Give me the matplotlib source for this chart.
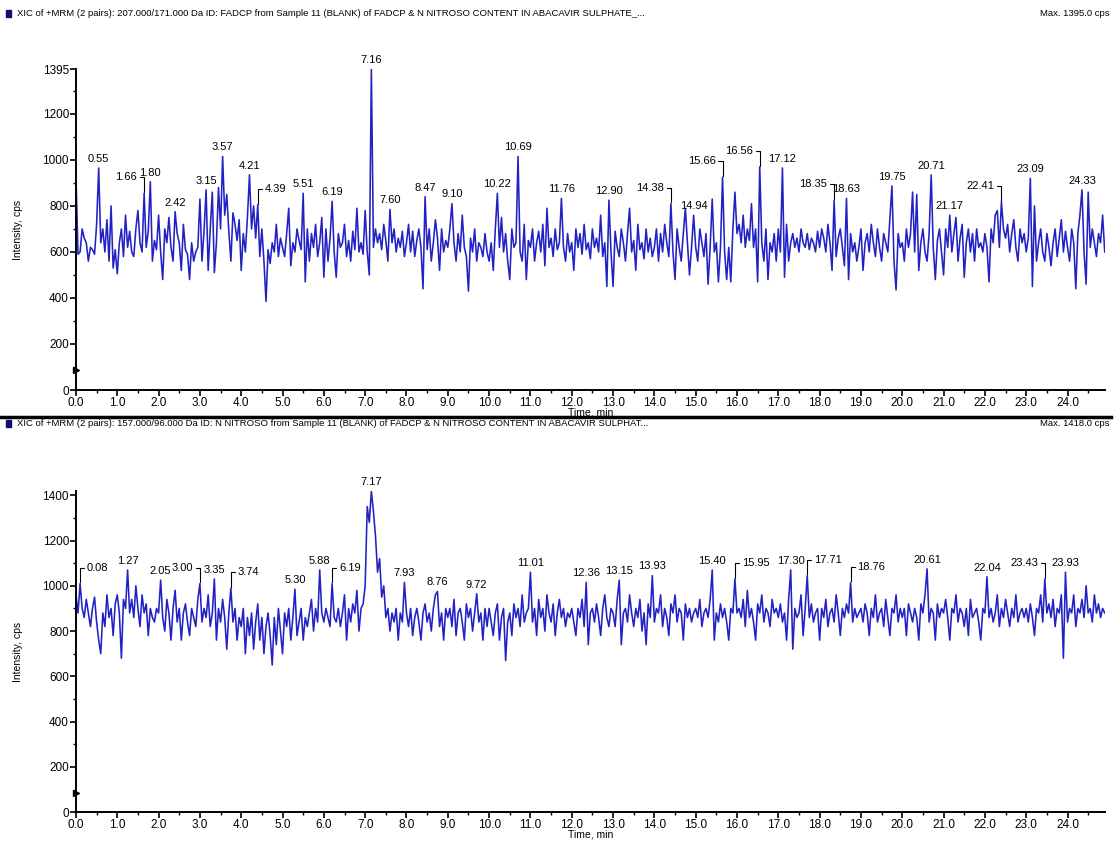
import numpy as np
import matplotlib
matplotlib.use("Agg")
import matplotlib.pyplot as plt
from matplotlib.ticker import MultipleLocator

plt.rcParams['font.family'] = ['Liberation Sans Narrow', 'Liberation Sans', 'DejaVu Sans']

# scan step of the XIC (min)
step = 0.05

# FADCP trace 207.000/171.000, one row per minute
fadcp = [
    930, 590, 600, 700, 660, 640, 560, 620, 610, 590, 720, 965, 640, 700, 600, 740, 560, 800, 530, 610,
    505, 640, 700, 580, 760, 620, 690, 600, 580, 700, 780, 640, 600, 855, 620, 690, 905, 560, 650, 610,
    760, 600, 480, 700, 640, 750, 620, 560, 775, 680, 640, 520, 720, 610, 590, 480, 640, 560, 600, 620,
    830, 560, 690, 870, 520, 700, 860, 510, 640, 880, 700, 1015, 760, 850, 690, 560, 770, 720, 650, 740,
    520, 680, 600, 750, 935, 700, 800, 660, 805, 580, 700, 560, 385, 610, 550, 640, 600, 720, 580, 660,
    620, 580, 680, 790, 540, 640, 600, 700, 650, 610, 855, 470, 700, 560, 680, 620, 720, 580, 640, 750,
    490, 700, 560, 660, 820, 600, 490, 680, 620, 640, 720, 580, 650, 560, 690, 610, 790, 600, 640, 590,
    780, 600, 500, 1395, 620, 700, 640, 680, 610, 720, 650, 560, 785, 640, 700, 600, 660, 620, 690, 580,
    640, 720, 600, 690, 580, 650, 700, 620, 440, 840, 610, 700, 560, 640, 740, 660, 520, 700, 600, 650,
    620, 700, 810, 640, 560, 680, 600, 760, 620, 580, 430, 660, 600, 700, 560, 640, 620, 580, 680, 600,
    560, 640, 520, 700, 855, 620, 750, 600, 680, 560, 480, 700, 620, 640, 1015, 600, 560, 720, 480, 650,
    620, 700, 560, 640, 690, 600, 720, 540, 790, 620, 660, 580, 700, 610, 640, 833, 620, 560, 680, 600,
    640, 520, 700, 620, 680, 590, 720, 610, 640, 570, 700, 620, 660, 600, 760, 580, 640, 450, 825, 600,
    450, 690, 620, 580, 700, 640, 560, 680, 790, 600, 650, 520, 720, 610, 640, 570, 700, 600, 660, 580,
    620, 700, 560, 680, 600, 720, 640, 580, 810, 600, 480, 700, 620, 560, 680, 790, 640, 500, 620, 760,
    620, 560, 700, 640, 580, 680, 460, 620, 830, 600, 640, 470, 620, 925, 600, 480, 620, 470, 700, 860,
    680, 720, 640, 760, 620, 700, 650, 810, 620, 700, 470, 970, 640, 560, 700, 480, 640, 600, 680, 560,
    700, 600, 965, 490, 720, 560, 640, 680, 620, 660, 600, 700, 640, 620, 680, 610, 660, 640, 600, 690,
    620, 700, 660, 600, 720, 640, 520, 825, 580, 660, 700, 620, 540, 833, 480, 680, 600, 640, 560, 620,
    700, 520, 640, 680, 600, 720, 640, 580, 700, 620, 560, 680, 640, 600, 740, 887, 560, 435, 680, 620,
    640, 560, 700, 620, 680, 860, 600, 850, 520, 640, 700, 600, 560, 680, 935, 620, 480, 650, 700, 600,
    500, 700, 620, 760, 600, 680, 750, 560, 660, 720, 490, 640, 700, 600, 680, 560, 700, 620, 640, 600,
    680, 620, 470, 700, 640, 760, 780, 620, 818, 700, 660, 720, 600, 680, 740, 620, 560, 700, 640, 680,
    600, 660, 920, 450, 800, 560, 640, 700, 600, 560, 680, 620, 540, 640, 700, 580, 660, 740, 600, 690,
    620, 560, 700, 640, 440, 680, 760, 870, 600, 460, 860, 620, 700, 640, 580, 680, 640, 760, 600,
]

# N NITROSO trace 157.000/96.000
nitroso = [
    960, 880, 1010, 900, 860, 940, 880, 820, 900, 950, 840, 760, 700, 880, 820, 960, 860, 900, 780, 920,
    960, 880, 680, 940, 900, 1070, 880, 940, 860, 1000, 900, 820, 960, 880, 920, 780, 900, 860, 840, 900,
    880, 1025, 860, 800, 940, 880, 760, 900, 980, 840, 900, 760, 880, 920, 840, 780, 900, 860, 820, 940,
    1010, 840, 900, 860, 960, 820, 880, 1030, 760, 900, 840, 940, 860, 720, 880, 990, 840, 900, 760, 860,
    820, 900, 700, 860, 780, 880, 720, 840, 920, 760, 860, 700, 820, 880, 780, 650, 860, 740, 900, 800,
    700, 880, 820, 900, 760, 860, 985, 780, 840, 900, 760, 860, 820, 880, 940, 800, 900, 840, 1070, 880,
    840, 900, 860, 820, 1010, 860, 840, 900, 820, 880, 960, 760, 900, 840, 920, 880, 980, 800, 900, 920,
    1000, 1350, 1280, 1418, 1330, 1220, 1060, 1120, 950, 1000, 860, 900, 800, 880, 840, 900, 760, 880, 840, 1015,
    880, 820, 900, 780, 860, 900, 840, 760, 880, 920, 840, 880, 800, 900, 960, 975, 820, 880, 760, 900,
    860, 900, 820, 940, 780, 880, 900, 840, 760, 920, 860, 900, 800, 880, 965, 840, 880, 760, 900, 820,
    900, 840, 780, 880, 920, 760, 860, 900, 670, 840, 880, 780, 920, 860, 900, 820, 960, 840, 880, 900,
    1060, 840, 900, 780, 940, 860, 900, 800, 960, 880, 840, 920, 780, 880, 940, 860, 900, 820, 880, 860,
    900, 840, 780, 900, 860, 940, 820, 1015, 740, 880, 900, 840, 920, 860, 780, 900, 960, 860, 820, 900,
    880, 820, 940, 1025, 740, 880, 900, 840, 960, 880, 820, 900, 860, 940, 800, 880, 740, 920, 860, 1045,
    840, 900, 880, 960, 820, 900, 860, 780, 920, 880, 960, 840, 900, 880, 760, 920, 860, 900, 840, 880,
    900, 860, 940, 820, 880, 900, 860, 940, 1070, 760, 880, 840, 920, 860, 900, 840, 760, 900, 880, 1030,
    880, 900, 860, 940, 820, 980, 860, 900, 840, 760, 920, 880, 960, 840, 900, 880, 820, 940, 880, 900,
    860, 920, 840, 880, 760, 940, 1070, 720, 900, 860, 880, 960, 780, 900, 1045, 860, 920, 840, 880, 900,
    760, 900, 860, 940, 820, 880, 900, 840, 960, 880, 780, 900, 860, 920, 880, 1015, 840, 900, 860, 880,
    900, 840, 920, 880, 780, 900, 860, 960, 840, 880, 900, 820, 940, 860, 780, 900, 880, 960, 840, 900,
    860, 900, 780, 920, 880, 840, 900, 860, 760, 920, 880, 960, 1075, 840, 900, 880, 760, 920, 860, 900,
    880, 940, 860, 760, 900, 880, 960, 840, 900, 880, 820, 900, 780, 940, 860, 880, 900, 840, 760, 900,
    880, 1040, 860, 900, 840, 880, 960, 820, 900, 860, 940, 880, 820, 900, 860, 960, 840, 880, 900, 860,
    900, 840, 920, 860, 780, 900, 880, 960, 840, 1030, 880, 920, 860, 940, 820, 900, 880, 960, 680, 1060,
    840, 900, 880, 960, 820, 900, 880, 940, 860, 1000, 880, 900, 840, 960, 880, 920, 860, 900, 880,
]

# peak labels (retention times)
fadcp_peaks = [0.55, 1.66, 1.80, 2.42, 3.15, 3.57, 4.21, 4.39, 5.51, 6.19, 7.16, 7.60, 8.47, 9.10,
               10.22, 10.69, 11.76, 12.90, 14.38, 14.94, 15.66, 16.56, 17.12, 18.35, 18.63, 19.75,
               20.71, 21.17, 22.41, 23.09, 24.33]
nitroso_peaks = [0.08, 1.27, 2.05, 3.00, 3.35, 3.74, 5.30, 5.88, 6.19, 7.17, 7.93, 8.76, 9.72, 11.01,
                 12.36, 13.15, 13.93, 15.40, 15.95, 17.30, 17.71, 18.76, 20.61, 22.04, 23.43, 23.93]
# labels drawn with a bent leader line: -1 text left of the peak, +1 text right of it
fadcp_leader = {1.66: -1, 4.39: 1, 14.38: -1, 15.66: -1, 16.56: -1, 18.35: -1, 22.41: -1}
nitroso_leader = {0.08: 1, 3.00: -1, 3.74: 1, 6.19: 1, 15.95: 1, 17.71: 1, 18.76: 1, 23.43: -1}

headers = [
    "XIC of +MRM (2 pairs): 207.000/171.000 Da ID: FADCP from Sample 11 (BLANK) of FADCP & N NITROSO CONTENT IN ABACAVIR SULPHATE_...",
    "XIC of +MRM (2 pairs): 157.000/96.000 Da ID: N NITROSO from Sample 11 (BLANK) of FADCP & N NITROSO CONTENT IN ABACAVIR SULPHAT...",
]
max_cps = [1395.0, 1418.0]

fig = plt.figure(figsize=(11.17, 8.46), dpi=100)
ax1 = fig.add_axes([0.068, 0.539, 0.921, 0.3794])
ax2 = fig.add_axes([0.068, 0.040, 0.921, 0.3794])

blue = '#2222c4'


def draw(ax, vals, peaks, leaders, ymax, yticks, ylabels):
    y = np.array(vals, dtype=float)
    t = np.arange(len(y)) * step
    ax.plot(t, y, color=blue, lw=1.15)
    ax.set_xlim(0, 24.9)
    ax.set_ylim(0, ymax)
    for s in ['top', 'right']:
        ax.spines[s].set_visible(False)
    ax.spines['left'].set_linewidth(1.4)
    ax.spines['bottom'].set_linewidth(1.4)
    ax.set_xticks(np.arange(0, 25, 1.0))
    ax.set_xticklabels([f"{v:.1f}" for v in np.arange(0, 25, 1.0)], fontsize=8.5)
    ax.xaxis.set_minor_locator(MultipleLocator(0.5))
    ax.set_yticks(yticks)
    ax.set_yticklabels(ylabels, fontsize=8.5)
    ax.yaxis.set_minor_locator(MultipleLocator(100))
    ax.tick_params(which='major', length=4, width=1.2, pad=1)
    ax.tick_params(which='minor', length=2, width=1.0)
    ax.set_xlabel("Time, min", fontsize=7.5, labelpad=-1)
    ax.set_ylabel("Intensity, cps", fontsize=7.5, labelpad=14)
    # small start marker at the origin
    ax.plot([0], [85], marker='>', color='black', ms=4, clip_on=False)
    for p in peaks:
        i = int(round(p / step))
        h = y[i]
        if p in leaders:
            side = leaders[p]
            ax.annotate(f"{p:.2f}", xy=(t[i], h + 5), xytext=(5 * side, 7),
                        textcoords='offset points', fontsize=8,
                        ha='left' if side > 0 else 'right', va='bottom',
                        arrowprops=dict(arrowstyle='-', color='black', lw=0.8,
                                        connectionstyle='angle,angleA=0,angleB=90,rad=0',
                                        shrinkA=0, shrinkB=0))
        else:
            ax.annotate(f"{p:.2f}", xy=(t[i], h), xytext=(0, 3),
                        textcoords='offset points', fontsize=8, ha='center', va='bottom')


draw(ax1, fadcp, fadcp_peaks, fadcp_leader, 1395,
     [0, 200, 400, 600, 800, 1000, 1200, 1395], ['0', '200', '400', '600', '800', '1000', '1200', '1395'])
draw(ax2, nitroso, nitroso_peaks, nitroso_leader, 1418,
     [0, 200, 400, 600, 800, 1000, 1200, 1400], ['0', '200', '400', '600', '800', '1000', '1200', '1400'])

# headers
for yy, txt, mx in [(0.984, headers[0], max_cps[0]), (0.499, headers[1], max_cps[1])]:
    fig.patches.append(plt.Rectangle((0.005, yy - 0.004), 0.005, 0.008, transform=fig.transFigure,
                                     color='#10106a', figure=fig))
    fig.text(0.015, yy, txt, fontsize=6.8, va='center', ha='left')
    fig.text(0.993, yy, f"Max. {mx:.1f} cps", fontsize=6.8, va='center', ha='right')

# separator between the two panes
fig.add_artist(plt.Line2D([0.0, 0.995], [0.507, 0.507], transform=fig.transFigure, color='black', lw=2.5))

fig.savefig("out.png", dpi=100)
